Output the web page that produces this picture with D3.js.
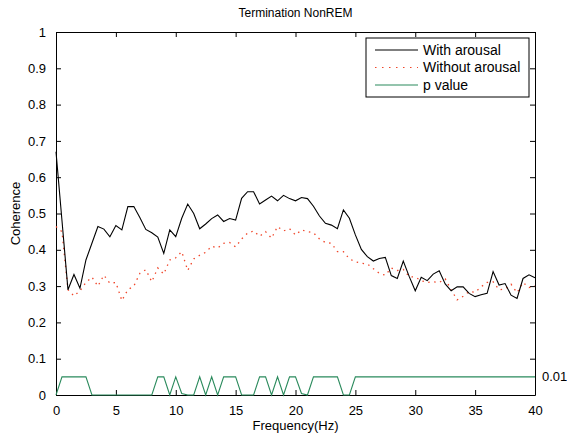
<!DOCTYPE html>
<html>
<head>
<meta charset="utf-8">
<script src="https://cdn.jsdelivr.net/npm/d3@7"></script>
<style>
  body { margin: 0; background: #fff; }
  svg { display: block; font-family: "Liberation Sans", Arial, Helvetica, sans-serif; }
  .tick-lab { font-size: 13px; fill: #000; }
</style>
</head>
<body>
<div id="chart"></div>
<script>
/*global d3*/
"use strict";

// frequency bins (Hz)
var freq = [ 0, 0.5, 1, 1.5, 2, 2.5, 3, 3.5, 4, 4.5, 5, 5.5, 6, 6.5, 7, 7.5, 8, 8.5, 9, 9.5,
  10, 10.5, 11, 11.5, 12, 12.5, 13, 13.5, 14, 14.5, 15, 15.5, 16, 16.5, 17, 17.5, 18, 18.5, 19, 19.5,
  20, 20.5, 21, 21.5, 22, 22.5, 23, 23.5, 24, 24.5, 25, 25.5, 26, 26.5, 27, 27.5, 28, 28.5, 29, 29.5,
  30, 30.5, 31, 31.5, 32, 32.5, 33, 33.5, 34, 34.5, 35, 35.5, 36, 36.5, 37, 37.5, 38, 38.5, 39, 39.5, 40 ];

var withArousal = [ 0.67, 0.48, 0.29, 0.332, 0.294, 0.372, 0.418, 0.464, 0.457, 0.436,
  0.467, 0.455, 0.519, 0.519, 0.489, 0.456, 0.447, 0.435, 0.39, 0.455,
  0.436, 0.487, 0.526, 0.50, 0.458, 0.471, 0.486, 0.496, 0.478, 0.486,
  0.482, 0.542, 0.56, 0.56, 0.526, 0.537, 0.548, 0.535, 0.55, 0.541,
  0.535, 0.544, 0.541, 0.52, 0.493, 0.473, 0.468, 0.458, 0.51, 0.487,
  0.441, 0.401, 0.381, 0.369, 0.376, 0.379, 0.329, 0.321, 0.369, 0.326,
  0.287, 0.324, 0.315, 0.333, 0.342, 0.306, 0.287, 0.298, 0.298, 0.28,
  0.271, 0.276, 0.28, 0.34, 0.303, 0.307, 0.275, 0.266, 0.321, 0.331, 0.323 ];

var withoutArousal = [ 0.464, 0.45, 0.29, 0.273, 0.287, 0.31, 0.325, 0.30, 0.33, 0.308,
  0.31, 0.26, 0.29, 0.30, 0.335, 0.345, 0.312, 0.35, 0.333, 0.372,
  0.378, 0.395, 0.343, 0.375, 0.385, 0.393, 0.41, 0.405, 0.418, 0.42,
  0.408, 0.43, 0.446, 0.452, 0.437, 0.45, 0.432, 0.464, 0.452, 0.458,
  0.441, 0.455, 0.45, 0.447, 0.43, 0.42, 0.418, 0.395, 0.395, 0.375,
  0.367, 0.363, 0.361, 0.348, 0.335, 0.33, 0.35, 0.343, 0.346, 0.326,
  0.325, 0.315, 0.31, 0.312, 0.31, 0.32, 0.29, 0.262, 0.272, 0.285,
  0.283, 0.298, 0.31, 0.312, 0.29, 0.292, 0.305, 0.282, 0.31, 0.296, 0.301 ];

// p value trace (0.05 = marked significant)
var pValue = [ 0, 0.05, 0.05, 0.05, 0.05, 0.05, 0, 0, 0, 0,
  0, 0, 0, 0, 0, 0, 0, 0.05, 0.05, 0,
  0.05, 0.004, 0, 0, 0.05, 0, 0.05, 0, 0.05, 0.05,
  0.05, 0, 0, 0, 0.05, 0.05, 0, 0.05, 0, 0.05,
  0.05, 0.004, 0, 0.05, 0.05, 0.05, 0.05, 0.05, 0, 0,
  0.05, 0.05, 0.05, 0.05, 0.05, 0.05, 0.05, 0.05, 0.05, 0.05,
  0.05, 0.05, 0.05, 0.05, 0.05, 0.05, 0.05, 0.05, 0.05, 0.05,
  0.05, 0.05, 0.05, 0.05, 0.05, 0.05, 0.05, 0.05, 0.05, 0.05, 0.05 ];

var xTicks = [ 0, 5, 10, 15, 20, 25, 30, 35, 40 ];
var yTicks = [ 0, 0.1, 0.2, 0.3, 0.4, 0.5, 0.6, 0.7, 0.8, 0.9, 1 ];
var legendNames = [ "With arousal", "Without arousal", "p value" ];

var W = 567, H = 436;
var margin = { top: 32, right: 32, bottom: 41, left: 56 };
var iw = W - margin.left - margin.right;
var ih = H - margin.top - margin.bottom;

var colBlack = "#000", colRed = "#f0462a", colGreen = "#2a8a5c";

var svg = d3.select( "#chart" ).append( "svg" )
  .attr( "width", W )
  .attr( "height", H );
var g = svg.append( "g" ).attr( "transform", "translate(" + margin.left + "," + margin.top + ")" );

var x = d3.scaleLinear().domain( [ 0, 40 ] ).range( [ 0, iw ] );
var y = d3.scaleLinear().domain( [ 0, 1 ] ).range( [ ih, 0 ] );

function fmt( v ) {
  return d3.format( "~g" )( v );
}

// axes, ticks inward on all four sides
g.append( "g" ).attr( "transform", "translate(0," + ih + ")" )
  .call( d3.axisBottom( x ).tickValues( xTicks ).tickSizeInner( -5 ).tickSizeOuter( 0 ).tickPadding( 11 ).tickFormat( fmt ) );
g.append( "g" )
  .call( d3.axisTop( x ).tickValues( xTicks ).tickSizeInner( -5 ).tickSizeOuter( 0 ).tickFormat( "" ) );
g.append( "g" )
  .call( d3.axisLeft( y ).tickValues( yTicks ).tickSizeInner( -5 ).tickSizeOuter( 0 ).tickPadding( 10 ).tickFormat( fmt ) );
g.append( "g" ).attr( "transform", "translate(" + iw + ",0)" )
  .call( d3.axisRight( y ).tickValues( yTicks ).tickSizeInner( -5 ).tickSizeOuter( 0 ).tickFormat( "" ) );

g.selectAll( ".domain" ).attr( "stroke", "#000" ).attr( "stroke-width", 1 );
g.selectAll( ".tick line" ).attr( "stroke", "#000" );
g.selectAll( ".tick text" ).attr( "class", "tick-lab" ).style( "font-family", null ).style( "font-size", "13px" );

function series( vals ) {
  return freq.map( function( f, i ) {
    return { f: f, v: vals[i] };
  } );
}

var line = d3.line()
  .x( function( d ) { return x( d.f ); } )
  .y( function( d ) { return y( d.v ); } );

g.append( "path" ).datum( series( pValue ) )
  .attr( "d", line ).attr( "fill", "none" )
  .attr( "stroke", colGreen ).attr( "stroke-width", 1.1 );

g.append( "path" ).datum( series( withoutArousal ) )
  .attr( "d", line ).attr( "fill", "none" )
  .attr( "stroke", colRed ).attr( "stroke-width", 1.3 )
  .attr( "stroke-dasharray", "1.5,4.5" );

g.append( "path" ).datum( series( withArousal ) )
  .attr( "d", line ).attr( "fill", "none" )
  .attr( "stroke", colBlack ).attr( "stroke-width", 1.1 );

// threshold label on the right
g.append( "text" )
  .attr( "x", iw + 7 ).attr( "y", y( 0.05 ) )
  .attr( "dy", "0.35em" )
  .style( "font-size", "13px" )
  .text( "0.01" );

// title and axis labels
svg.append( "text" )
  .attr( "x", margin.left + iw / 2 ).attr( "y", 17 )
  .attr( "text-anchor", "middle" ).style( "font-size", "12px" )
  .text( "Termination NonREM" );
svg.append( "text" )
  .attr( "x", margin.left + iw / 2 ).attr( "y", 430 )
  .attr( "text-anchor", "middle" ).style( "font-size", "13px" )
  .text( "Frequency(Hz)" );
svg.append( "text" )
  .attr( "transform", "translate(20," + ( margin.top + ih / 2 ) + ") rotate(-90)" )
  .attr( "text-anchor", "middle" ).style( "font-size", "13px" )
  .text( "Coherence" );

// legend
var leg = g.append( "g" ).attr( "transform", "translate(" + ( 366 - margin.left ) + "," + ( 38 - margin.top ) + ")" );
leg.append( "rect" )
  .attr( "width", 163 ).attr( "height", 59 )
  .attr( "fill", "#fff" ).attr( "stroke", "#000" ).attr( "stroke-width", 1 );
var legStyles = [
  { c: colBlack, dash: null },
  { c: colRed, dash: "1.5,5.5" },
  { c: colGreen, dash: null }
];
legendNames.forEach( function( name, i ) {
  var ly = 12 + i * 17.5;
  leg.append( "line" )
    .attr( "x1", 9 ).attr( "x2", 52 ).attr( "y1", ly ).attr( "y2", ly )
    .attr( "stroke", legStyles[i].c ).attr( "stroke-width", 1.1 )
    .attr( "stroke-dasharray", legStyles[i].dash );
  leg.append( "text" )
    .attr( "x", 57 ).attr( "y", ly ).attr( "dy", "0.35em" )
    .style( "font-size", "14px" )
    .text( name );
} );
</script>
</body>
</html>
